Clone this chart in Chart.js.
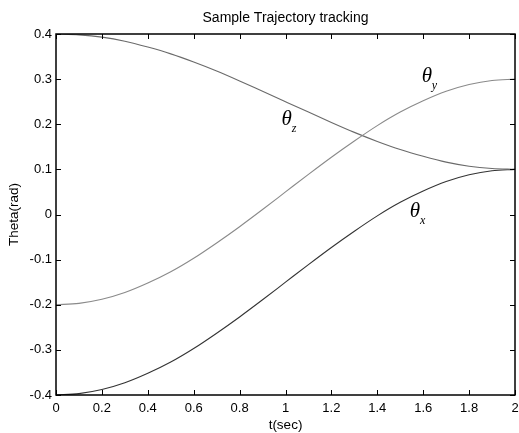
<!DOCTYPE html>
<html>
<head>
<meta charset="utf-8">
<script src="https://cdn.jsdelivr.net/npm/chart.js@4.4.1/dist/chart.umd.min.js"></script>
<style>
  html, body { margin: 0; padding: 0; background: #fff; }
  #wrap { width: 519px; height: 433px; }
</style>
</head>
<body>
<div id="wrap"><canvas id="myChart" width="519" height="433"></canvas></div>
<script>
const times = [0, 0.1, 0.2, 0.3, 0.4, 0.5, 0.6, 0.7, 0.8, 0.9, 1.0, 1.1, 1.2, 1.3, 1.4, 1.5, 1.6, 1.7, 1.8, 1.9, 2.0];
const thetaX = [-0.400, -0.397, -0.388, -0.373, -0.352, -0.327, -0.297, -0.263, -0.227, -0.189, -0.150, -0.111, -0.073, -0.037, -0.003, 0.027, 0.052, 0.073, 0.088, 0.097, 0.100];
const thetaY = [-0.200, -0.197, -0.188, -0.173, -0.152, -0.127, -0.097, -0.063, -0.027, 0.011, 0.050, 0.089, 0.127, 0.163, 0.197, 0.227, 0.252, 0.273, 0.288, 0.297, 0.300];
const thetaZ = [0.400, 0.398, 0.393, 0.384, 0.371, 0.356, 0.338, 0.318, 0.296, 0.273, 0.250, 0.227, 0.204, 0.182, 0.162, 0.144, 0.129, 0.116, 0.107, 0.102, 0.100];
const xTicks = [0, 0.2, 0.4, 0.6, 0.8, 1, 1.2, 1.4, 1.6, 1.8, 2];
const yTicks = [-0.4, -0.3, -0.2, -0.1, 0, 0.1, 0.2, 0.3, 0.4];
// curve labels: [subscript, t, theta]
const curveLabels = [['x', 1.564, 0.006], ['y', 1.616, 0.305], ['z', 1.005, 0.21]];

const pts = arr => arr.map((v, i) => ({x: times[i], y: v}));
const font = '"Liberation Sans", Arial, sans-serif';

// frame, inward ticks, title and the theta labels
const decor = {
  id: 'decor',
  afterDraw(chart) {
    const c = chart.ctx, a = chart.chartArea;
    const sx = chart.scales.x, sy = chart.scales.y;
    c.save();
    c.strokeStyle = '#000';
    c.lineWidth = 1;
    c.beginPath();
    xTicks.forEach(t => {
      const px = Math.round(sx.getPixelForValue(t)) + 0.5;
      c.moveTo(px, a.bottom); c.lineTo(px, a.bottom - 5);
      c.moveTo(px, a.top); c.lineTo(px, a.top + 5);
    });
    yTicks.forEach(t => {
      const py = Math.round(sy.getPixelForValue(t)) + 0.5;
      c.moveTo(a.left, py); c.lineTo(a.left + 5, py);
      c.moveTo(a.right, py); c.lineTo(a.right - 5, py);
    });
    c.stroke();
    c.lineWidth = 1.5;
    c.strokeRect(a.left, a.top, a.right - a.left, a.bottom - a.top);

    c.fillStyle = '#000';
    c.font = '14px ' + font;
    c.textAlign = 'center';
    c.textBaseline = 'middle';
    c.fillText('Sample Trajectory tracking', (a.left + a.right) / 2, 18);

    curveLabels.forEach(([sub, t, v]) => {
      const px = sx.getPixelForValue(t), py = sy.getPixelForValue(v);
      c.font = 'italic 21px "Liberation Serif", "Times New Roman", serif';
      c.textAlign = 'center';
      c.fillText('\u03B8', px, py);
      c.font = 'italic 12px "Liberation Serif", "Times New Roman", serif';
      c.textAlign = 'left';
      c.fillText(sub, px + 5, py + 9);
    });
    c.restore();
  }
};

new Chart(document.getElementById('myChart'), {
  type: 'line',
  data: {
    datasets: [
      { label: 'theta_y', data: pts(thetaY), borderColor: '#8a8a8a' },
      { label: 'theta_z', data: pts(thetaZ), borderColor: '#6a6a6a' },
      { label: 'theta_x', data: pts(thetaX), borderColor: '#333333' }
    ]
  },
  options: {
    responsive: false,
    animation: false,
    layout: { padding: { top: 34, right: 4, left: 0, bottom: 0 } },
    elements: {
      point: { radius: 0 },
      line: { borderWidth: 1.1, cubicInterpolationMode: 'monotone', fill: false }
    },
    plugins: {
      legend: { display: false },
      tooltip: { enabled: false },
      title: { display: false }
    },
    scales: {
      x: {
        type: 'linear',
        min: 0,
        max: 2,
        afterFit(s) { s.height = 38; s.paddingRight = 0; s.paddingLeft = 0; },
        afterBuildTicks(s) { s.ticks = xTicks.map(v => ({value: v})); },
        grid: { display: false, drawTicks: false },
        border: { display: false },
        ticks: {
          color: '#000',
          font: { family: font, size: 13 },
          padding: 6,
          maxRotation: 0,
          callback: v => String(v)
        },
        title: {
          display: true,
          text: 't(sec)',
          color: '#000',
          font: { family: font, size: 13.5 },
          padding: { top: 0, bottom: 0 }
        }
      },
      y: {
        min: -0.4,
        max: 0.4,
        afterFit(s) { s.width = 56; },
        afterBuildTicks(s) { s.ticks = yTicks.map(v => ({value: v})); },
        grid: { display: false, drawTicks: false },
        border: { display: false },
        ticks: {
          color: '#000',
          font: { family: font, size: 13 },
          padding: 4,
          callback: v => String(Math.round(v * 10) / 10)
        },
        title: {
          display: true,
          text: 'Theta(rad)',
          color: '#000',
          font: { family: font, size: 13.5 },
          padding: { top: 6, bottom: 0 }
        }
      }
    }
  },
  plugins: [decor]
});
</script>
</body>
</html>
